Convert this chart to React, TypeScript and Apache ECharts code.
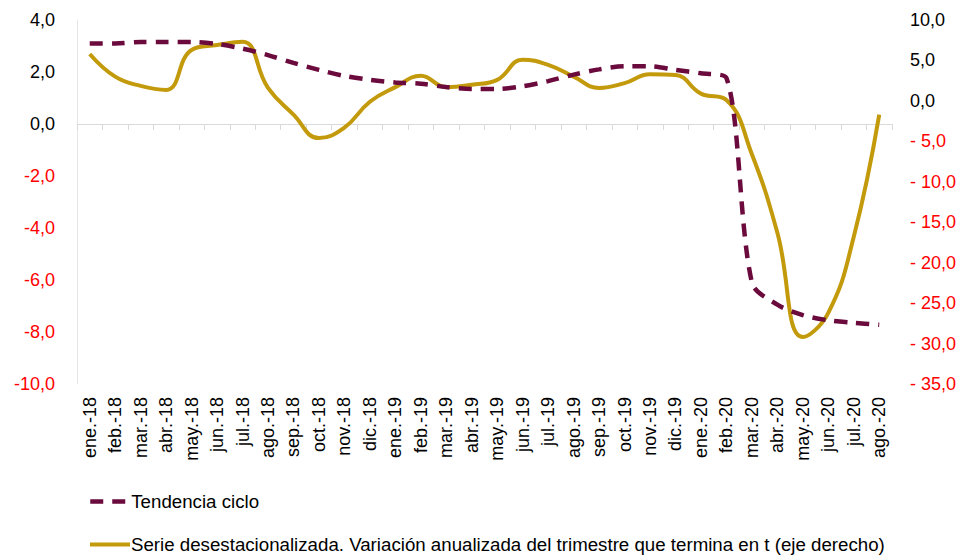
import React, { useEffect, useRef } from "react";
import * as echarts from "echarts";

const categories = ["ene.-18","feb.-18","mar.-18","abr.-18","may.-18","jun.-18","jul.-18","ago.-18","sep.-18","oct.-18","nov.-18","dic.-18","ene.-19","feb.-19","mar.-19","abr.-19","may.-19","jun.-19","jul.-19","ago.-19","sep.-19","oct.-19","nov.-19","dic.-19","ene.-20","feb.-20","mar.-20","abr.-20","may.-20","jun.-20","jul.-20","ago.-20"];

const tendencia = [3.1, 3.1, 3.15, 3.15, 3.15, 3.08, 2.9, 2.65, 2.35, 2.08, 1.85, 1.7, 1.6, 1.55, 1.42, 1.35, 1.35, 1.45, 1.65, 1.9, 2.1, 2.22, 2.22, 2.08, 1.95, 1.77, -6.1, -6.95, -7.35, -7.55, -7.65, -7.72];

const serie = [5.8, 3.0, 1.85, 1.35, 6.3, 6.9, 7.3, 1.6, -1.7, -4.6, -3.3, -0.1, 1.7, 3.1, 1.7, 2.0, 2.6, 5.1, 4.45, 3.0, 1.6, 2.2, 3.3, 3.2, 0.9, 0.1, -6.6, -16.3, -29.2, -26.2, -16.8, -1.7];

const seriesNames = [
  "Tendencia ciclo",
  "Serie desestacionalizada. Variación anualizada del trimestre que termina en t (eje derecho)",
];

const leftAxis = { min: -10, max: 4, interval: 2 };
const rightAxis = { min: -35, max: 10, interval: 5 };

const FONT = "'Liberation Sans', Arial, sans-serif";
const MAROON = "#6B0A3C";
const GOLD = "#C39A0B";

export default function App() {
  const ref = useRef<HTMLDivElement>(null);
  useEffect(() => {
    if (!ref.current) return;
    const chart = echarts.init(ref.current, null, { renderer: "svg" });
    const legendBase = {
      orient: "horizontal",
      left: 88,
      itemWidth: 40,
      itemHeight: 14,
      itemGap: 0,
      padding: 0,
      itemStyle: { opacity: 0 },
      textStyle: { fontSize: 18.7, color: "#000", fontFamily: FONT, padding: [0, 0, 0, -4] },
    };
    chart.setOption({
      animation: false,
      textStyle: { fontFamily: FONT },
      grid: { left: 77, right: 66, top: 20, bottom: 172, containLabel: false },
      legend: [
        { ...legendBase, top: 492, data: [{ name: seriesNames[0], lineStyle: { width: 4.5 } }] },
        { ...legendBase, top: 535, data: [{ name: seriesNames[1], lineStyle: { width: 4 } }] },
      ],
      xAxis: [
        {
          type: "category",
          data: categories,
          position: "bottom",
          boundaryGap: true,
          axisLine: { show: false, onZero: false },
          axisTick: { show: false },
          axisLabel: { rotate: 90, fontSize: 18, color: "#000", margin: 13, interval: 0, fontFamily: FONT },
        },
        {
          type: "category",
          data: categories,
          position: "top",
          boundaryGap: true,
          axisLine: { show: true, onZero: true, onZeroAxisIndex: 0, lineStyle: { color: "#d9d9d9", width: 1 } },
          axisTick: { show: true, inside: true, length: 6, interval: 0, lineStyle: { color: "#d9d9d9" } },
          axisLabel: { show: false },
        },
      ],
      yAxis: [
        {
          type: "value",
          min: leftAxis.min,
          max: leftAxis.max,
          interval: leftAxis.interval,
          position: "left",
          splitLine: { show: false },
          axisLine: { show: true, lineStyle: { color: "#e6e6e6" } },
          axisTick: { show: false },
          axisLabel: {
            fontSize: 18,
            margin: 22,
            fontFamily: FONT,
            formatter: (v: number) => v.toFixed(1).replace(".", ","),
            color: (v: any) => (Number(v) < 0 ? "#FF0000" : "#000"),
          },
        },
        {
          type: "value",
          min: rightAxis.min,
          max: rightAxis.max,
          interval: rightAxis.interval,
          position: "right",
          splitLine: { show: false },
          axisLine: { show: false },
          axisTick: { show: false },
          axisLabel: {
            fontSize: 18,
            margin: 18,
            fontFamily: FONT,
            formatter: (v: number) =>
              v < 0 ? "- " + Math.abs(v).toFixed(1).replace(".", ",") : v.toFixed(1).replace(".", ","),
            color: (v: any) => (Number(v) < 0 ? "#FF0000" : "#000"),
          },
        },
      ],
      series: [
        {
          name: seriesNames[0],
          type: "line",
          xAxisIndex: 0,
          yAxisIndex: 0,
          data: tendencia,
          smooth: 0.3,
          symbol: "none",
          showSymbol: false,
          itemStyle: { color: MAROON },
          lineStyle: { color: MAROON, width: 4.5, type: [13, 9] },
          z: 3,
        },
        {
          name: seriesNames[1],
          type: "line",
          xAxisIndex: 0,
          yAxisIndex: 1,
          data: serie,
          smooth: 0.45,
          symbol: "none",
          showSymbol: false,
          itemStyle: { color: GOLD },
          lineStyle: { color: GOLD, width: 4 },
          z: 2,
        },
      ],
    });
    return () => chart.dispose();
  }, []);
  return <div ref={ref} style={{ width: 959, height: 556, position: "absolute", left: 0, top: 0 }} />;
}
